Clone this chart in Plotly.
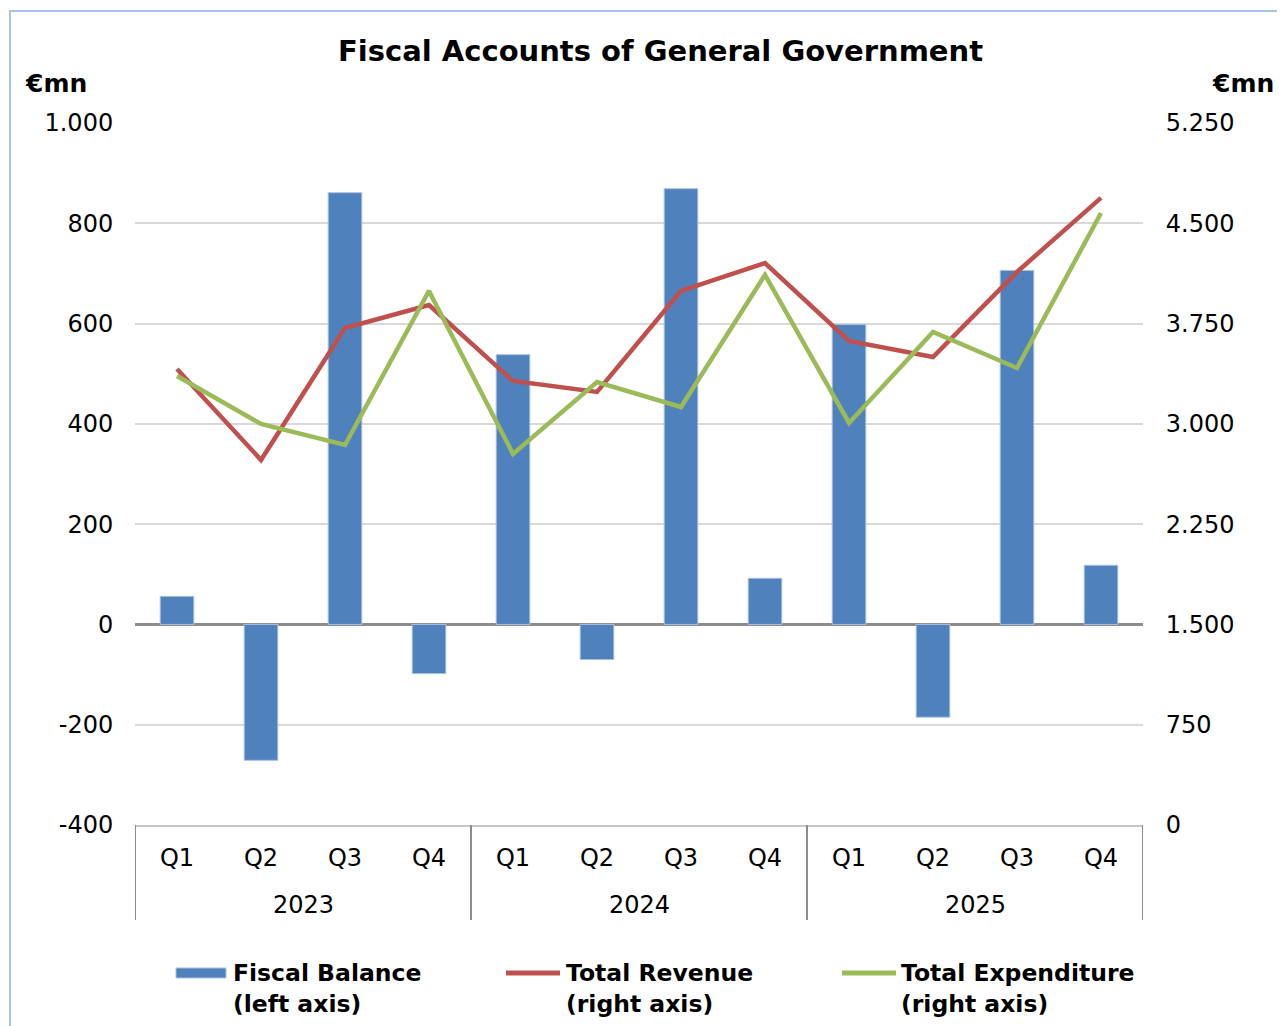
import plotly.graph_objects as go

quarters = ["Q1", "Q2", "Q3", "Q4"] * 3
years = ["2023", "2024", "2025"]
fiscal_balance = [56, -271, 861, -98, 538, -70, 869, 92, 598, -185, 706, 118]
total_revenue = [3410, 2730, 3717, 3889, 3321, 3239, 3994, 4203, 3620, 3500, 4136, 4690]
total_expenditure = [3358, 2999, 2842, 3994, 2775, 3313, 3126, 4114, 3007, 3687, 3418, 4577]
left_ticks = [-400, -200, 0, 200, 400, 600, 800, 1000]
left_ticktext = ["-400", "-200", "0", "200", "400", "600", "800", "1.000"]
right_ticks = [0, 750, 1500, 2250, 3000, 3750, 4500, 5250]
right_ticktext = ["0", "750", "1.500", "2.250", "3.000", "3.750", "4.500", "5.250"]

OFF = 8  # page body margin
W, H = 1285 - OFF, 1026 - OFF
L, R, T, B = 135 - OFF, 1143 - OFF, 123 - OFF, 825 - OFF
FONT = "DejaVu Sans"

def px(x):
    return (x - OFF - L) / (R - L)

def py(y):
    return 1 - (y - OFF - T) / (B - T)

xs = list(range(len(quarters)))

fig = go.Figure()
fig.add_trace(go.Bar(x=xs, y=fiscal_balance, width=0.4, name="Fiscal Balance",
                     marker=dict(color="#4F81BD", line=dict(color="#a9c1df", width=1)),
                     yaxis="y", showlegend=False))
fig.add_trace(go.Scatter(x=xs, y=total_revenue, mode="lines", name="Total Revenue",
                         line=dict(color="#C0504D", width=4.5), yaxis="y2", showlegend=False))
fig.add_trace(go.Scatter(x=xs, y=total_expenditure, mode="lines", name="Total Expenditure",
                         line=dict(color="#9BBB59", width=4.5), yaxis="y2", showlegend=False))

shapes = []
annotations = []

# outer frame
shapes.append(dict(type="rect", xref="paper", yref="paper",
                   x0=px(10), x1=px(1300), y0=py(1040), y1=py(11),
                   line=dict(color="#a6c4e8", width=2), fillcolor="rgba(0,0,0,0)", layer="below"))

# category dividers
for xv in [-0.5, 3.5, 7.5, 11.5]:
    shapes.append(dict(type="line", xref="x", yref="paper", x0=xv, x1=xv,
                       y0=py(825), y1=py(920), line=dict(color="#8c8c8c", width=2)))

# year labels
for i, yr in enumerate(years):
    annotations.append(dict(text=yr, x=i * 4 + 1.5, xref="x", y=py(905), yref="paper",
                            showarrow=False, font=dict(family=FONT, size=24, color="#000"),
                            xanchor="center", yanchor="middle"))

# title
annotations.append(dict(text="<b>Fiscal Accounts of General Government</b>", x=px(660), y=py(51),
                        xref="paper", yref="paper", showarrow=False,
                        font=dict(family=FONT, size=29, color="#000"), xanchor="center", yanchor="middle"))
# unit labels
annotations.append(dict(text="<b>€mn</b>", x=px(23), y=py(84), xref="paper", yref="paper",
                        showarrow=False, font=dict(family=FONT, size=25, color="#000"),
                        xanchor="left", yanchor="middle"))
annotations.append(dict(text="<b>€mn</b>", x=px(1276), y=py(84), xref="paper", yref="paper",
                        showarrow=False, font=dict(family=FONT, size=25, color="#000"),
                        xanchor="right", yanchor="middle"))

# custom legend
legend_items = [
    ("bar", "#4F81BD", 176, 226, 231, "Fiscal Balance", "(left axis)"),
    ("line", "#C0504D", 506, 560, 564, "Total Revenue", "(right axis)"),
    ("line", "#9BBB59", 842, 896, 899, "Total Expenditure", "(right axis)"),
]
for kind, col, x0, x1, tx, l1, l2 in legend_items:
    if kind == "bar":
        shapes.append(dict(type="rect", xref="paper", yref="paper", x0=px(x0), x1=px(x1),
                           y0=py(978), y1=py(968), fillcolor=col,
                           line=dict(color="#a9c1df", width=1)))
    else:
        shapes.append(dict(type="line", xref="paper", yref="paper", x0=px(x0), x1=px(x1),
                           y0=py(973), y1=py(973), line=dict(color=col, width=5)))
    annotations.append(dict(text="<b>" + l1 + "</b><br><b>" + l2 + "</b>", x=px(tx), y=py(988),
                            xref="paper", yref="paper", showarrow=False, align="left",
                            font=dict(family=FONT, size=23.5, color="#000"),
                            xanchor="left", yanchor="middle"))

fig.update_layout(
    width=W, height=H,
    margin=dict(l=L, r=W - R, t=T, b=H - B, pad=0),
    paper_bgcolor="white", plot_bgcolor="white",
    font=dict(family=FONT, size=24, color="#000"),
    bargap=0.6,
    xaxis=dict(range=[-0.5, 11.5], tickvals=xs, ticktext=quarters, showgrid=False,
               showline=True, linecolor="#c6c6c6", linewidth=2, zeroline=False,
               ticks="outside", ticklen=10, tickcolor="rgba(0,0,0,0)",
               tickfont=dict(family=FONT, size=24, color="#000"), fixedrange=True),
    yaxis=dict(range=[-400, 1000], tickvals=left_ticks, ticktext=left_ticktext,
               showgrid=True, gridcolor="#d9d9d9", gridwidth=2,
               zeroline=True, zerolinecolor="#8c8c8c", zerolinewidth=2.5,
               showline=False, ticks="outside", ticklen=16, tickcolor="rgba(0,0,0,0)",
               tickfont=dict(family=FONT, size=24, color="#000")),
    yaxis2=dict(range=[0, 5250], tickvals=right_ticks, ticktext=right_ticktext,
                overlaying="y", side="right", showgrid=False, zeroline=False,
                showline=False, ticks="outside", ticklen=17, tickcolor="rgba(0,0,0,0)",
                tickfont=dict(family=FONT, size=24, color="#000")),
    shapes=shapes, annotations=annotations,
)

fig.write_html("out.html")
